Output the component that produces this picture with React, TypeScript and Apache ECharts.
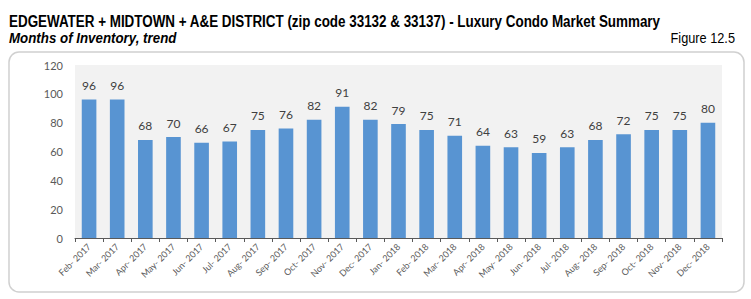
import React, { useEffect, useRef } from "react";
import * as echarts from "echarts";

const categories = [
  "Feb- 2017", "Mar- 2017", "Apr- 2017", "May- 2017", "Jun- 2017", "Jul- 2017",
  "Aug- 2017", "Sep- 2017", "Oct- 2017", "Nov- 2017", "Dec- 2017", "Jan- 2018",
  "Feb- 2018", "Mar- 2018", "Apr- 2018", "May- 2018", "Jun- 2018", "Jul- 2018",
  "Aug- 2018", "Sep- 2018", "Oct- 2018", "Nov- 2018", "Dec- 2018",
];
const monthsOfInventory = [96, 96, 68, 70, 66, 67, 75, 76, 82, 91, 82, 79, 75, 71, 64, 63, 59, 63, 68, 72, 75, 75, 80];
const yTicks = [0, 20, 40, 60, 80, 100, 120];

const titleText = "EDGEWATER + MIDTOWN + A&E DISTRICT (zip code 33132 & 33137) - Luxury Condo Market Summary";
const subtitleText = "Months of Inventory, trend";
const figureText = "Figure 12.5";

const sans = "'Liberation Sans', Arial, sans-serif";
const chartFont = "Lato, 'Open Sans', sans-serif";

export default function App() {
  const ref = useRef<HTMLDivElement>(null);
  useEffect(() => {
    if (!ref.current) return;
    const chart = echarts.init(ref.current, undefined, { renderer: "svg" });
    chart.setOption({
      animation: false,
      backgroundColor: "#ffffff",
      graphic: [
        {
          type: "rect",
          shape: { x: 9, y: 52, width: 735, height: 240, r: 10 },
          style: { fill: "#ffffff", stroke: "#d0d0d0", lineWidth: 1.5 },
          z: -10,
        },
        {
          type: "text",
          x: 9, y: 21, scaleX: 0.79,
          style: { text: titleText, font: `bold 17px ${sans}`, fill: "#000", textVerticalAlign: "middle" },
        },
        {
          type: "text",
          x: 9, y: 38, scaleX: 0.86,
          style: { text: subtitleText, font: `italic bold 15.5px ${sans}`, fill: "#000", textVerticalAlign: "middle" },
        },
        {
          type: "text",
          x: 735, y: 38, scaleX: 0.85,
          style: { text: figureText, font: `15px ${sans}`, fill: "#000", textAlign: "right", textVerticalAlign: "middle" },
        },
      ],
      grid: {
        left: 75, right: 29, top: 65, bottom: 61,
        show: true, backgroundColor: "#f2f2f2", borderWidth: 0,
      },
      xAxis: {
        type: "category",
        data: categories,
        axisLine: { show: true, lineStyle: { color: "#595959", width: 1 } },
        axisTick: { show: true, alignWithLabel: false, length: 4, lineStyle: { color: "#595959" } },
        axisLabel: {
          rotate: 45, interval: 0, fontSize: 9, color: "#595959", fontFamily: chartFont, margin: 7,
        },
      },
      yAxis: {
        type: "value",
        min: yTicks[0],
        max: yTicks[yTicks.length - 1],
        interval: 20,
        axisLine: { show: false },
        axisTick: { show: false },
        splitLine: { show: false },
        axisLabel: { fontSize: 11, color: "#595959", fontFamily: chartFont, margin: 12 },
      },
      series: [
        {
          type: "bar",
          data: monthsOfInventory,
          barWidth: "52%",
          itemStyle: { color: "#5894d2" },
          label: {
            show: true, position: "top", distance: 8,
            fontSize: 12, color: "#404040", fontFamily: chartFont,
          },
        },
      ],
    });
    return () => chart.dispose();
  }, []);
  return (
    <div style={{ position: "fixed", left: 0, top: 0, width: 751, height: 299 }}>
      <div ref={ref} style={{ width: 751, height: 299 }} />
    </div>
  );
}
